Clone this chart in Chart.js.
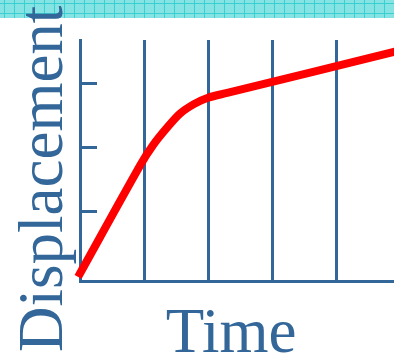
<!DOCTYPE html>
<html>
<head>
<meta charset="utf-8">
<script src="https://cdn.jsdelivr.net/npm/chart.js@4"></script>
<style>
  html, body { margin:0; padding:0; background:#fff; }
  #wrap { position:relative; width:394px; height:361px; overflow:hidden; }
  #strip { position:absolute; left:0; top:0; width:394px; height:18px;
    background-color:#86e3e3;
    background-image:
      linear-gradient(to right, #3acfd0 1px, transparent 1px),
      linear-gradient(to bottom, #3acfd0 1px, transparent 1px);
    background-size:10px 10px; background-position:4px 3px; }
  #c { position:absolute; left:0; top:0; }
</style>
</head>
<body>
<div id="wrap">
  <div id="strip"></div>
  <canvas id="c" width="394" height="361"></canvas>
</div>
<script>
// curve (x in grid columns, y in tick steps)
const timeVals = [-0.03, 0.95, 1.15, 1.35, 1.56, 1.78, 2.0, 2.3, 4.92];
const dispVals = [-0.03, 1.73, 2.04, 2.29, 2.52, 2.67, 2.77, 2.845, 3.49];
const xGridTicks = [1, 2, 3, 4];
const yTickMarks = [1, 2, 3];
const xTitle = 'Time';
const yTitle = 'Displacement';

const BLUE = '#336699';
const serif = '63px "Liberation Serif", "DejaVu Serif", serif';

const decor = {
  id: 'decor',
  afterDraw(chart) {
    const c = chart.ctx, y = chart.scales.y, area = chart.chartArea;
    c.save();
    // short inward tick marks on the y axis
    c.strokeStyle = BLUE; c.lineWidth = 3;
    yTickMarks.forEach(v => {
      const py = Math.round(y.getPixelForValue(v)) + 0.5;
      c.beginPath(); c.moveTo(area.left, py); c.lineTo(area.left + 17, py); c.stroke();
    });
    c.fillStyle = BLUE; c.font = serif;
    c.textAlign = 'center'; c.textBaseline = 'alphabetic';
    c.fillText(xTitle, 231, 352);
    c.translate(62, 352); c.rotate(-Math.PI/2);
    c.textAlign = 'left';
    c.fillText(yTitle, 0, 0);
    c.restore();
  }
};

new Chart(document.getElementById('c'), {
  type: 'line',
  data: { datasets: [{
    data: timeVals.map((t,i) => ({x:t, y:dispVals[i]})),
    borderColor: '#ff0000', borderWidth: 8, pointRadius: 0,
    tension: 0.3, borderJoinStyle: 'round', clip: false
  }]},
  options: {
    responsive: false, animation: false, devicePixelRatio: 1,
    layout: { padding: { left: 80, top: 40, right: 0, bottom: 80 } },
    plugins: { legend: {display:false}, tooltip: {enabled:false} },
    scales: {
      x: { type: 'linear', min: 0, max: 314/64,
        afterBuildTicks: s => { s.ticks = xGridTicks.map(v => ({value:v})); },
        ticks: { display: false },
        grid: { color: BLUE, lineWidth: 3, drawTicks: false },
        border: { display: true, color: BLUE, width: 3 } },
      y: { type: 'linear', min: -6/64, max: 235/64,
        ticks: { display: false },
        grid: { display: false, drawTicks: false },
        border: { display: true, color: BLUE, width: 3 } }
    }
  },
  plugins: [decor]
});
</script>
</body>
</html>
